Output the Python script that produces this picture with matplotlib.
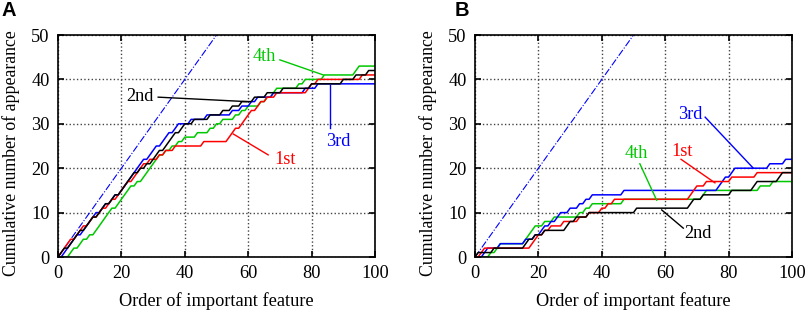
import numpy as np
import matplotlib
matplotlib.use("Agg")
import matplotlib.pyplot as plt

# x positions (order of important feature) at which each feature appears
orders = np.arange(0, 101)

a_1st = [1, 2, 3, 4, 6, 7, 8, 10, 11, 13, 14, 16, 17, 19, 20, 21, 22, 24, 25, 26, 27,
         29, 32, 34, 37, 46, 54, 55, 56, 58, 59, 60, 61, 63, 64, 66, 69, 79, 80, 82, 96]
a_2nd = [1, 2, 4, 5, 6, 7, 9, 10, 11, 13, 14, 15, 17, 18, 20, 21, 22, 23, 24, 26, 28,
         30, 31, 32, 34, 35, 36, 37, 39, 40, 43, 48, 52, 55, 58, 62, 66, 71, 80, 90, 94, 98]
a_3rd = [2, 3, 4, 5, 6, 8, 9, 10, 11, 12, 14, 15, 17, 18, 20, 21, 22, 23, 24, 25, 26,
         27, 29, 30, 31, 33, 34, 35, 37, 38, 42, 47, 55, 58, 61, 63, 68, 78, 82]
a_4th = [4, 5, 7, 8, 10, 12, 13, 14, 15, 16, 17, 19, 20, 21, 22, 23, 25, 27, 28, 29, 30,
         31, 32, 34, 36, 38, 40, 44, 48, 50, 52, 56, 58, 60, 64, 66, 68, 69, 76, 78, 84, 94, 95]

b_1st = [2, 3, 18, 19, 20, 22, 24, 28, 33, 36, 40, 42, 44, 68, 69, 70, 73, 81, 89]
b_2nd = [1, 6, 16, 17, 19, 22, 29, 30, 32, 36, 51, 68, 69, 72, 81, 88, 89, 96, 97]
b_3rd = [3, 4, 8, 16, 19, 21, 22, 24, 26, 27, 30, 33, 35, 37, 47, 77, 78, 79, 81, 82, 93, 98]
b_4th = [5, 7, 8, 16, 17, 18, 19, 22, 25, 33, 35, 37, 47, 72, 73, 90, 94]

ref_x = [0, 50]
ref_y = [0, 50]

x_ticks = [0, 20, 40, 60, 80, 100]
y_ticks = [0, 10, 20, 30, 40, 50]

colors = {"1st": "#ff0000", "2nd": "#000000", "3rd": "#0000ff", "4th": "#00c800"}


def cumulative(hits):
    c = np.zeros(len(orders))
    for h in hits:
        c[orders >= h] += 1
    return c


plt.rcParams["font.family"] = ["Liberation Serif", "DejaVu Serif"]
FS = 13.2
fig = plt.figure(figsize=(8.09, 3.14), dpi=100)
axA = fig.add_axes([58 / 809, 57 / 314, 317 / 809, 222 / 314])
axB = fig.add_axes([475 / 809, 57 / 314, 317 / 809, 222 / 314])

panels = [
    (axA, {"1st": a_1st, "2nd": a_2nd, "3rd": a_3rd, "4th": a_4th},
     [("4th", (65, 45.1), (70, 44.4), (83.7, 41)),
      ("2nd", (25.9, 36.1), (31.6, 36), (59.5, 35)),
      ("3rd", (88.4, 26), (85.8, 29), (85.8, 38.7)),
      ("1st", (71.6, 22), (66.3, 23), (55.3, 27.7))]),
    (axB, {"1st": b_1st, "2nd": b_2nd, "3rd": b_3rd, "4th": b_4th},
     [("3rd", (67.8, 32), (72.6, 31.5), (87.8, 20)),
      ("1st", (65.4, 23.7), (65, 22), (75.7, 16.7)),
      ("4th", (51, 23.3), (52, 21), (57.3, 12.8)),
      ("2nd", (70.4, 5.3), (65.7, 6.5), (58.9, 10.6))]),
]

for ax, series, notes in panels:
    ax.plot(ref_x, ref_y, color="#0000ff", lw=0.8, ls="-.")
    for name in ["4th", "3rd", "1st", "2nd"]:
        ax.plot(orders, cumulative(series[name]), color=colors[name], lw=1.1)
    for name, tpos, lstart, lend in notes:
        ax.text(tpos[0], tpos[1], name, color=colors[name], fontsize=FS,
                ha="center", va="center")
        ax.plot([lstart[0], lend[0]], [lstart[1], lend[1]], color=colors[name], lw=1.0)
    ax.set_xlim(0, 100)
    ax.set_ylim(0, 50)
    ax.set_xticks(x_ticks)
    ax.set_yticks(y_ticks)
    ax.grid(True, color="#444444", ls=":", lw=1.0)
    ax.tick_params(direction="in", top=True, right=True, length=4, width=1.2,
                   labelsize=FS, pad=6)
    for s in ax.spines.values():
        s.set_linewidth(1.2)
    ax.set_xlabel("Order of important feature", fontsize=FS, labelpad=7)
    ax.set_ylabel("Cumulative number of appearance", fontsize=12.8, labelpad=8)
    ax.yaxis.set_label_coords(-0.12, 0.47)

fig.text(2 / 809, 1 - 1 / 314, "A", fontsize=14.5, fontweight="bold",
         family="Liberation Sans", va="top", ha="left")
fig.text(455 / 809, 1 - 1 / 314, "B", fontsize=14.5, fontweight="bold",
         family="Liberation Sans", va="top", ha="left")

fig.savefig("out.png", dpi=100)
